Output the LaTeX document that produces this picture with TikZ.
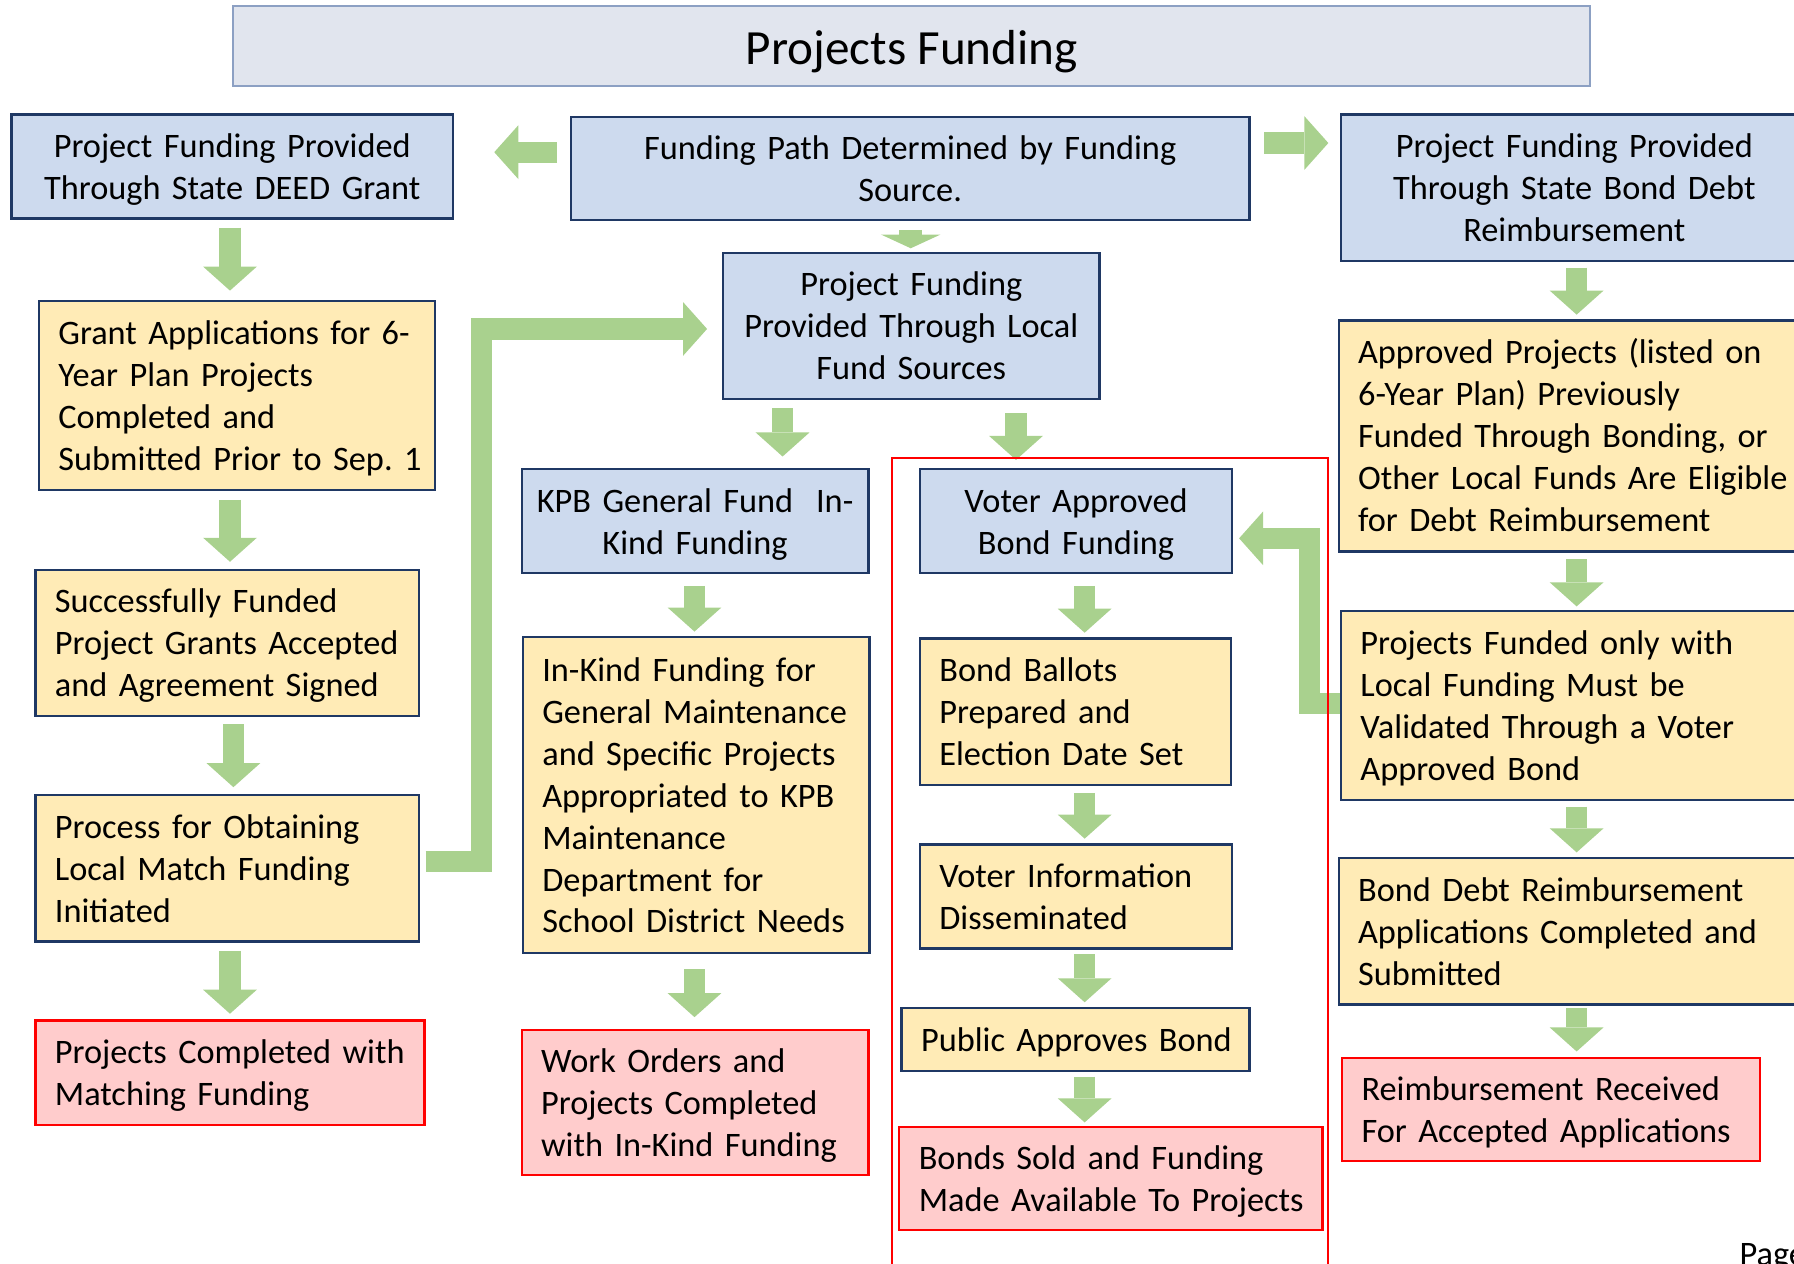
\documentclass[tikz,border=0pt]{standalone}
\usepackage{fontspec}
\setmainfont{Carlito}
\usetikzlibrary{arrows.meta,calc}
\definecolor{bfill}{RGB}{205,218,238}
\definecolor{yfill}{RGB}{255,235,182}
\definecolor{pfill}{RGB}{255,204,204}
\definecolor{navy}{RGB}{31,56,100}
\definecolor{pred}{RGB}{255,0,0}
\definecolor{agreen}{RGB}{169,209,142}
\definecolor{tfill}{RGB}{225,229,238}
\definecolor{tline}{RGB}{140,160,195}
\newcommand{\boxfont}{\fontsize{15}{18.35}\selectfont\frenchspacing}
\newcommand{\topstrut}{\rule{0pt}{14.35pt}}
\newcommand{\botstrut}{\rule[-4pt]{0pt}{4pt}}
\tikzset{
  every node/.style={font=\boxfont, inner ysep=0pt},
  boxbase/.style={line width=1pt, inner xsep=8.5pt, align=left,
    execute at begin node=\topstrut, execute at end node=\botstrut},
  bbox/.style={boxbase, draw=navy, fill=bfill, align=center, inner xsep=4pt},
  ybox/.style={boxbase, draw=navy, fill=yfill},
  pbox/.style={boxbase, draw=pred, fill=pfill},
  tbox/.style={draw=tline, fill=tfill, line width=0.8pt},
  garr/.style={draw=agreen, line width=9.25pt, line join=miter,
    -{Triangle[width=23.5pt,length=10.5pt,line width=0pt]}},
}
\begin{document}
\begin{tikzpicture}[x=0.5pt,y=-0.5pt]
\useasboundingbox (0,0) rectangle (1568,1104);
\clip (0,0) rectangle (1568,1104);
% title
\node[tbox, minimum width=593pt, minimum height=35pt, text height=21pt, text depth=5pt, font=\fontsize{21.5}{26}\selectfont] (title) at (797,40) {Projects Funding};
% blue boxes
\node[bbox, minimum width=193pt, minimum height=45.5pt, text width=185pt] (deed) at (203,145.5) {Project Funding Provided\\Through State DEED Grant};
\node[bbox, minimum width=296.5pt, minimum height=45pt, text width=288.5pt] (path) at (795.5,147) {Funding Path Determined by Funding\\Source.};
\node[bbox, minimum width=204pt, minimum height=64pt, text width=196pt] (sbond) at (1376,164) {Project Funding Provided\\Through State Bond Debt\\Reimbursement};
\node[bbox, minimum width=164.5pt, minimum height=64pt, text width=156.5pt] (local) at (796.5,285) {Project Funding\\Provided Through Local\\Fund Sources};
\node[bbox, minimum width=151.5pt, minimum height=45.5pt, text width=143.5pt] (kpb) at (607.5,455.5) {KPB General Fund\ \ In-\\Kind Funding};
\node[bbox, minimum width=136.5pt, minimum height=45.5pt, text width=128.5pt] (voter) at (940.5,455.5) {Voter Approved\\Bond Funding};
% yellow boxes
\node[ybox, minimum width=173pt, minimum height=82.5pt, text width=156pt] (grant) at (207,345.5) {Grant Applications for 6-\\Year Plan Projects\\Completed and\\Submitted~Prior~to~Sep.~1};
\node[ybox, minimum width=167.5pt, minimum height=64pt, text width=150.5pt] (success) at (198.5,562) {Successfully Funded\\Project Grants Accepted\\and Agreement Signed};
\node[ybox, minimum width=167.5pt, minimum height=64pt, text width=150.5pt] (process) at (198.5,759) {Process for Obtaining\\Local Match Funding\\Initiated};
\node[ybox, minimum width=151.5pt, minimum height=138pt, text width=134.5pt] (inkind) at (608.5,695) {In-Kind Funding for\\General Maintenance\\and Specific Projects\\Appropriated to KPB\\Maintenance\\Department for\\School District Needs};
\node[ybox, minimum width=136pt, minimum height=64pt, text width=119pt] (ballots) at (940,622) {Bond Ballots\\Prepared and\\Election Date Set};
\node[ybox, minimum width=136.5pt, minimum height=45.5pt, text width=119.5pt] (vinfo) at (940.5,783.5) {Voter Information\\Disseminated};
\node[ybox, minimum width=152pt, minimum height=27.5pt, text width=140pt, inner xsep=6pt] (public) at (940,908.5) {\hspace*{2.5pt}Public~Approves~Bond};
\node[ybox, minimum width=205pt, minimum height=101pt, text width=188pt] (approved) at (1375,381) {Approved Projects (listed on\\6-Year Plan) Previously\\Funded Through Bonding, or\\Other~Local~Funds~Are~Eligible\\for Debt Reimbursement};
\node[ybox, minimum width=204pt, minimum height=82.5pt, text width=187pt] (funded) at (1376,616.5) {Projects Funded only with\\Local Funding Must be\\Validated Through a Voter\\Approved Bond};
\node[ybox, minimum width=205pt, minimum height=64pt, text width=188pt] (bdebt) at (1375,814) {Bond Debt Reimbursement\\Applications Completed and\\Submitted};
% pink boxes
\node[pbox, minimum width=170pt, minimum height=45.5pt, text width=153pt] (completed) at (201,937.5) {Projects Completed with\\Matching Funding};
\node[pbox, minimum width=151.5pt, minimum height=63.5pt, text width=134.5pt] (work) at (607.5,963.5) {Work Orders and\\Projects Completed\\with In-Kind Funding};
\node[pbox, minimum width=185pt, minimum height=45pt, text width=173pt, inner xsep=6pt] (sold) at (971,1030) {\hspace*{2.5pt}Bonds Sold and Funding\\\hspace*{2.5pt}Made~Available~To~Projects};
\node[pbox, minimum width=182.5pt, minimum height=45pt, text width=165.5pt] (reimb) at (1355.5,970) {Reimbursement Received\\For Accepted Applications};
\node[anchor=base west, inner sep=0pt] (page) at (1520,1106) {Page};
% columns
\coordinate (cA) at (201,0);
\coordinate (cB) at (204,0);
\coordinate (cP) at (796,0);
\coordinate (cL1) at (684,0);
\coordinate (cL2) at (888,0);
\coordinate (cK) at (607,0);
\coordinate (cV) at (948,0);
\coordinate (cR) at (1378,0);
% arrows
\draw[garr, shorten <=3.5pt, shorten >=4pt] (deed.south -| cA) -- (grant.north -| cA);
\draw[garr, shorten <=4pt, shorten >=3pt] (grant.south -| cA) -- (success.north -| cA);
\draw[garr, shorten <=3pt, shorten >=3pt] (success.south -| cB) -- (process.north -| cB);
\draw[garr, shorten <=3.5pt, shorten >=2.5pt] (process.south -| cA) -- (completed.north -| cA);
\draw[draw=agreen, line width=10pt, -{Triangle[width=26pt,length=6pt,line width=0pt]}, shorten <=4pt, shorten >=1.5pt] (path.south -| cP) -- (local.north -| cP);
\draw[garr, shorten <=3.5pt, shorten >=5pt] (local.south -| cL1) -- (kpb.north -| cL1);
\draw[garr, shorten <=5.5pt, shorten >=3.5pt] (local.south -| cL2) -- (voter.north -| cL2);
\draw[garr, shorten <=5pt, shorten >=2pt] (kpb.south -| cK) -- (inkind.north -| cK);
\draw[garr, shorten <=6.5pt, shorten >=5pt] (inkind.south -| cK) -- (work.north -| cK);
\draw[garr, shorten <=5pt, shorten >=2pt] (voter.south -| cV) -- (ballots.north -| cV);
\draw[garr, shorten <=3pt, shorten >=2pt] (ballots.south -| cV) -- (vinfo.north -| cV);
\draw[garr, shorten <=2pt, shorten >=2pt] (vinfo.south -| cV) -- (public.north -| cV);
\draw[garr, shorten <=2pt, shorten >=1.5pt] (public.south -| cV) -- (sold.north -| cV);
\draw[garr, shorten <=2.5pt, shorten >=2pt] (sbond.south -| cR) -- (approved.north -| cR);
\draw[garr, shorten <=3pt, shorten >=1.5pt] (approved.south -| cR) -- (funded.north -| cR);
\draw[garr, shorten <=2.5pt, shorten >=2pt] (funded.south -| cR) -- (bdebt.north -| cR);
\draw[garr, shorten <=1pt, shorten >=2.5pt] (bdebt.south -| cR) -- (reimb.north -| cR);
\draw[garr] ($(path.west)+(-5.5pt,7pt)$) -- ($(deed.east |- path.west)+(17.5pt,7pt)$);
\draw[garr] ($(path.east)+(6pt,11pt)$) -- ($(sbond.west |- path.east)+(-5pt,11pt)$);
\draw[garr] ($(process.east)+(2.5pt,3pt)$) -- ++(48.5,0) |- ($(local.west)+(-6.5pt,-1.25pt)$);
\draw[garr] ($(funded.west)+(0pt,1pt)$) -- ++(-26.5,0) |- ($(voter.east)+(2.5pt,-7.5pt)$);
% red frame
\draw[pred, line width=0.9pt] (780,1110) |- (1161,400) -- (1161,1110);
\end{tikzpicture}
\end{document}
